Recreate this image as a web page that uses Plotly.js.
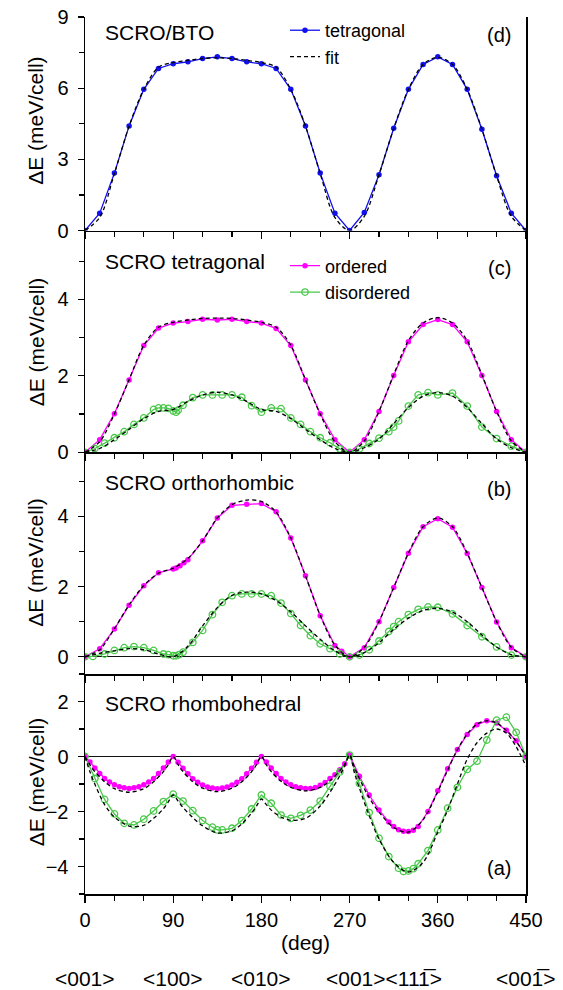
<!DOCTYPE html>
<html>
<head>
<meta charset="utf-8">
<script src="https://cdn.plot.ly/plotly-3.0.1.min.js"></script>
<style>html,body{margin:0;padding:0;background:#fff;}#chart{width:563px;height:990px;}</style>
</head>
<body>
<div id="chart"></div>
<script>
// ---------- shared angle grid ----------
const X15 = [0,15,30,45,60,75,90,105,120,135,150,165,180,195,210,225,240,255,270,285,300,315,330,345,360,375,390,405,420,435,450];

// ---------- panel (d) SCRO/BTO ----------
const D_TET = [0,0.73,2.42,4.41,5.95,6.83,7.03,7.11,7.25,7.32,7.25,7.11,7.03,6.83,5.95,4.41,2.42,0.73,0,0.76,2.35,4.31,5.95,7.0,7.32,7.0,5.95,4.27,2.31,0.73,0];
const D_FIT = [0,0.55,2.4,4.4,5.95,6.88,7.08,7.17,7.25,7.28,7.25,7.17,7.08,6.88,5.95,4.4,2.4,0.55,0,0.6,2.35,4.3,5.95,7.0,7.3,7.0,5.95,4.27,2.3,0.6,0];

// ---------- panel (c) SCRO tetragonal ----------
const C_ORD = [0,0.33,1.01,1.89,2.79,3.25,3.38,3.42,3.48,3.46,3.48,3.42,3.38,3.24,2.79,1.89,1.01,0.33,0,0.33,1.07,2.01,2.89,3.34,3.47,3.34,2.89,2.01,1.07,0.33,0];
const C_ORD_FIT = [0,0.28,1.0,1.9,2.8,3.27,3.4,3.46,3.5,3.51,3.5,3.46,3.4,3.27,2.8,1.9,1.0,0.28,0,0.3,1.07,2.03,2.92,3.38,3.52,3.38,2.92,2.03,1.07,0.3,0];
const C_DIS_X = [0,10,20,30,40,50,60,70,75,80,85,90,93,95,100,110,120,130,140,150,160,170,180,190,200,210,220,230,240,250,260,270,280,290,300,310,315,320,330,340,350,360,375,390,405,420,435,450];
const C_DIS = [0,0.1,0.24,0.38,0.54,0.73,0.90,1.12,1.16,1.16,1.15,1.08,1.05,1.10,1.23,1.43,1.50,1.50,1.50,1.50,1.44,1.22,1.05,1.16,1.14,0.90,0.73,0.54,0.38,0.25,0.09,0,0.09,0.23,0.37,0.54,0.66,0.82,1.21,1.50,1.56,1.50,1.55,1.21,0.66,0.36,0.16,0];
const C_DIS_FIT = [0,0.1,0.33,0.6,0.88,1.07,1.12,1.33,1.5,1.57,1.5,1.33,1.12,1.07,0.88,0.6,0.33,0.1,0,0.12,0.35,0.75,1.17,1.47,1.56,1.47,1.17,0.75,0.35,0.12,0];

// ---------- panel (b) SCRO orthorhombic ----------
const B_ORD_X = [0,15,30,45,60,75,90,93,97,101,105,120,135,150,165,180,195,210,225,240,255,262,270,285,300,315,330,345,360,375,390,405,420,435,450];
const B_ORD = [0,0.23,0.79,1.47,2.02,2.39,2.50,2.53,2.59,2.68,2.76,3.30,3.95,4.31,4.34,4.36,4.13,3.38,2.31,1.17,0.32,0.16,0,0.26,1.0,1.97,2.95,3.70,3.93,3.69,2.94,1.97,0.99,0.26,0];
const B_ORD_FIT = [0,0.2,0.8,1.48,2.03,2.38,2.52,2.8,3.3,3.95,4.33,4.46,4.42,4.12,3.38,2.3,1.18,0.33,0,0.27,1.0,1.97,2.95,3.7,3.95,3.7,2.95,1.97,1.0,0.27,0];
const B_DIS_X = [0,8,20,30,40,50,60,70,80,85,90,93,96,100,110,120,130,140,150,160,170,180,190,200,210,220,230,240,250,260,270,280,290,300,310,315,320,330,340,350,360,375,390,405,420,435,450];
const B_DIS = [0,0.01,0.08,0.18,0.26,0.29,0.26,0.18,0.08,0.06,0.03,0.03,0.06,0.13,0.41,0.75,1.2,1.55,1.74,1.79,1.79,1.79,1.74,1.53,1.23,0.89,0.6,0.37,0.23,0.08,0,0.05,0.2,0.45,0.72,0.86,1.0,1.2,1.35,1.42,1.41,1.22,0.89,0.57,0.28,0.05,0];
const B_DIS_FIT = [0,0.1,0.17,0.23,0.2,0.08,0.0,0.3,0.88,1.4,1.75,1.84,1.79,1.6,1.28,0.88,0.5,0.17,0,0.12,0.4,0.78,1.1,1.32,1.38,1.27,1.0,0.62,0.28,0.06,0];

// ---------- panel (a) SCRO rhombohedral ----------
const A_ORD_X = [0,5,10,15,20,25,30,35,40,45,50,55,60,65,70,75,80,85,90,95,100,105,110,115,120,125,130,135,140,145,150,155,160,165,170,175,180,185,190,195,200,205,210,215,220,225,230,235,240,245,250,255,260,265,270,280,290,300,310,315,320,325,330,335,340,350,360,370,380,390,400,410,420,430,440,450];
const A_ORD = [0,-0.2,-0.42,-0.62,-0.8,-0.93,-1.03,-1.1,-1.14,-1.16,-1.14,-1.1,-1.03,-0.93,-0.8,-0.62,-0.42,-0.2,
  0,-0.21,-0.43,-0.63,-0.81,-0.94,-1.04,-1.11,-1.15,-1.17,-1.15,-1.11,-1.04,-0.94,-0.81,-0.63,-0.43,-0.21,
  0,-0.2,-0.42,-0.62,-0.8,-0.93,-1.03,-1.1,-1.14,-1.16,-1.16,-1.13,-1.05,-0.95,-0.8,-0.66,-0.48,-0.26,
  0.05,-0.72,-1.4,-1.95,-2.38,-2.55,-2.66,-2.72,-2.73,-2.68,-2.55,-2.0,-1.25,-0.45,0.25,0.8,1.15,1.3,1.22,0.95,0.57,0];
const A_DIS_X = [0,10,20,30,40,50,60,70,80,90,100,110,120,130,135,140,150,160,170,180,190,200,210,220,230,240,250,260,270,280,290,300,310,320,325,330,335,340,350,360,370,380,390,400,410,420,430,440,450];
const A_DIS = [0,-0.8,-1.56,-2.09,-2.43,-2.49,-2.28,-1.98,-1.64,-1.37,-1.62,-1.97,-2.33,-2.57,-2.67,-2.67,-2.61,-2.33,-1.91,-1.4,-1.7,-2.13,-2.25,-2.14,-1.95,-1.62,-1.08,-0.56,0.05,-0.98,-2.04,-2.97,-3.64,-4.06,-4.18,-4.16,-4.08,-3.9,-3.42,-2.67,-1.88,-1.12,-0.47,-0.17,0.6,1.32,1.43,0.88,0];
const XA = [0,5,10,20,30,45,60,70,80,85,90,95,100,110,120,135,150,160,170,175,180,185,190,200,210,225,240,250,260,265,270,275,280,290,300,315,330,345,360,370,380,390,400,410,420,430,440,450];
const A_ORD_FIT = [0,-0.3,-0.55,-0.92,-1.17,-1.3,-1.17,-0.92,-0.55,-0.3,
  0,-0.3,-0.55,-0.92,-1.15,-1.28,-1.15,-0.92,-0.55,-0.3,
  0,-0.3,-0.55,-0.9,-1.12,-1.25,-1.12,-0.88,-0.52,-0.28,
  0.05,-0.4,-0.8,-1.5,-2.02,-2.58,-2.75,-2.3,-1.28,-0.5,
  0.25,0.82,1.18,1.3,1.22,0.95,0.55,0.0];
const A_DIS_FIT = [0,-0.55,-1.0,-1.75,-2.2,-2.53,-2.5,-2.25,-1.9,-1.65,
  -1.4,-1.62,-1.85,-2.22,-2.52,-2.78,-2.7,-2.45,-2.05,-1.8,
  -1.55,-1.75,-1.95,-2.2,-2.32,-2.25,-1.8,-1.3,-0.7,-0.35,
  0.05,-0.6,-1.15,-2.15,-3.0,-3.85,-4.2,-3.85,-2.75,-1.95,
  -1.0,-0.1,0.5,0.85,1.0,0.85,0.35,-0.35];

// ---------- text ----------
const X_TICKS = [0,90,180,270,360,450];
const PANEL_TITLES = ['SCRO rhombohedral','SCRO orthorhombic','SCRO tetragonal','SCRO/BTO'];
const PANEL_TAGS = ['(a)','(b)','(c)','(d)'];
const Y_TITLE = 'ΔE (meV/cell)';
const X_TITLE = '(deg)';
const DIR_LABELS = ['<001>','<100>','<010>','<001><11\u0031\u0305>','<00\u0031\u0305>'];
const DIR_POS = [0,90,180,305,450];

// ---------- styles ----------
const FONT = 'Liberation Sans, Arial, Helvetica, sans-serif';
const BLUE = '#1010f0', MAG = '#ff00ff', GRN = '#48c848';

function dataTrace(x, y, color, xa, ya, name, open, legend) {
  return {
    x: x, y: y, type: 'scatter', mode: 'lines+markers', name: name || '',
    xaxis: xa, yaxis: ya, showlegend: !!name, legend: legend || 'legend',
    line: {color: color, width: 1.3},
    marker: open ? {symbol: 'circle-open', size: 6.5, color: color, line: {width: 1.3, color: color}}
                 : {symbol: 'circle', size: 5.5, color: color}
  };
}
function fitTrace(x, y, xa, ya, name) {
  return {
    x: x, y: y, type: 'scatter', mode: 'lines', name: name || '',
    xaxis: xa, yaxis: ya, showlegend: !!name, legend: 'legend',
    line: {color: '#000', width: 1.3, dash: '4px,3px', shape: 'spline', smoothing: 0.9}
  };
}

const traces = [
  // (d)
  dataTrace(X15, D_TET, BLUE, 'x4', 'y4', 'tetragonal', false, 'legend'),
  fitTrace(X15, D_FIT, 'x4', 'y4', 'fit'),
  // (c)
  dataTrace(X15, C_ORD, MAG, 'x3', 'y3', 'ordered', false, 'legend2'),
  dataTrace(C_DIS_X, C_DIS, GRN, 'x3', 'y3', 'disordered', true, 'legend2'),
  fitTrace(X15, C_ORD_FIT, 'x3', 'y3'),
  fitTrace(X15, C_DIS_FIT, 'x3', 'y3'),
  // (b)
  dataTrace(B_ORD_X, B_ORD, MAG, 'x2', 'y2'),
  dataTrace(B_DIS_X, B_DIS, GRN, 'x2', 'y2', '', true),
  fitTrace(X15, B_ORD_FIT, 'x2', 'y2'),
  fitTrace(X15, B_DIS_FIT, 'x2', 'y2'),
  // (a)
  dataTrace(A_ORD_X, A_ORD, MAG, 'x', 'y'),
  dataTrace(A_DIS_X, A_DIS, GRN, 'x', 'y', '', true),
  fitTrace(XA, A_ORD_FIT, 'x', 'y'),
  fitTrace(XA, A_DIS_FIT, 'x', 'y')
];

// plot area geometry (px) used to place paper-referenced annotations
const W = 563, H = 990, ML = 85, MR = 37, MT = 15, MB = 96;
const PW = W - ML - MR, PH = H - MT - MB;
const px2x = p => (p - ML) / PW;
const py2y = p => (H - MB - p) / PH;

const DOM = [[0, py2y(673.5)], [py2y(673.5), py2y(451.3)], [py2y(451.3), py2y(229)], [py2y(229), 1]];
const YR = [[-5, 3], [-0.49, 5.82], [0, 5.8], [0, 9]];
const YD = [2, 2, 2, 3];

function xax(anchor, labels) {
  return {
    anchor: anchor, range: [0, 450], tickmode: 'array', tickvals: X_TICKS,
    showticklabels: labels, ticks: 'outside', ticklen: 7, tickwidth: 1.3, tickcolor: '#000',
    minor: {tickmode: 'linear', tick0: 0, dtick: 30, ticks: 'outside', ticklen: 5, tickwidth: 1.2, tickcolor: '#000'},
    showline: true, linecolor: '#000', linewidth: 1.5, mirror: false,
    showgrid: false, zeroline: false, ticklabelstandoff: 0,
    tickfont: {family: FONT, size: 20, color: '#000'}, fixedrange: true
  };
}
function yax(anchor, i) {
  return {
    anchor: anchor, domain: DOM[i], range: YR[i], tickmode: 'linear', tick0: 0, dtick: YD[i],
    ticks: 'outside', ticklen: 6, tickwidth: 1.3, tickcolor: '#000',
    minor: {tickmode: 'linear', tick0: 0, dtick: YD[i] / 2, ticks: 'outside', ticklen: 5, tickwidth: 1.2, tickcolor: '#000'},
    showline: true, linecolor: '#000', linewidth: 1.5, mirror: true,
    showgrid: false, zeroline: true, zerolinecolor: '#111', zerolinewidth: 1.2,
    ticklabelstandoff: 5, tickfont: {family: FONT, size: 20, color: '#000'}, fixedrange: true
  };
}
// overlay axes giving the inward half of the crossing major ticks
function xin(overlay, anchor) {
  return {overlaying: overlay, anchor: anchor, side: 'bottom', range: [0, 450], tickmode: 'array', tickvals: X_TICKS,
    ticks: 'inside', ticklen: 6, tickwidth: 1.3, tickcolor: '#000', showticklabels: false,
    showline: false, showgrid: false, zeroline: false, fixedrange: true};
}
function yin(overlay, anchor, i) {
  return {overlaying: overlay, anchor: anchor, side: 'left', range: YR[i], tickmode: 'linear', tick0: 0, dtick: YD[i],
    ticks: 'inside', ticklen: 6, tickwidth: 1.3, tickcolor: '#000', showticklabels: false,
    showline: false, showgrid: false, zeroline: false, fixedrange: true};
}

const annotations = [];
const titleY = [py2y(703.3), py2y(481.7), py2y(260), py2y(31)];
const tagY = [py2y(868.3), py2y(488.3), py2y(266.7), py2y(33)];
const yTitleCenter = [py2y(782), py2y(562), py2y(341), py2y(119)];
for (let i = 0; i < 4; i++) {
  annotations.push({text: PANEL_TITLES[i], xref: 'paper', yref: 'paper', x: px2x(103), y: titleY[i],
    xanchor: 'left', yanchor: 'middle', showarrow: false, font: {family: FONT, size: 21, color: '#000'}});
  annotations.push({text: PANEL_TAGS[i], xref: 'paper', yref: 'paper', x: px2x(499), y: tagY[i],
    xanchor: 'center', yanchor: 'middle', showarrow: false, font: {family: FONT, size: 20, color: '#000'}});
  annotations.push({text: Y_TITLE, xref: 'paper', yref: 'paper', x: px2x(36), y: yTitleCenter[i],
    xanchor: 'center', yanchor: 'middle', textangle: -90, showarrow: false, font: {family: FONT, size: 21, color: '#000'}});
}
annotations.push({text: X_TITLE, xref: 'x', yref: 'paper', x: 225, y: py2y(943), xanchor: 'center', yanchor: 'middle',
  showarrow: false, font: {family: FONT, size: 21, color: '#000'}});
for (let i = 0; i < DIR_LABELS.length; i++) {
  annotations.push({text: DIR_LABELS[i], xref: 'x', yref: 'paper', x: DIR_POS[i], y: py2y(979),
    xanchor: 'center', yanchor: 'middle', showarrow: false, font: {family: FONT, size: 21, color: '#000'}});
}

const legendCommon = {
  xref: 'paper', yref: 'paper', x: px2x(285), xanchor: 'left', yanchor: 'top',
  bgcolor: 'rgba(0,0,0,0)', borderwidth: 0, itemwidth: 30, tracegroupgap: 0,
  font: {family: FONT, size: 18, color: '#000'}
};

const layout = {
  width: W, height: H,
  margin: {l: ML, r: MR, t: MT, b: MB, pad: 0},
  paper_bgcolor: '#fff', plot_bgcolor: 'rgba(0,0,0,0)',
  font: {family: FONT, color: '#000'},
  xaxis: xax('y', true), xaxis2: xax('y2', false), xaxis3: xax('y3', false), xaxis4: xax('y4', false),
  yaxis: yax('x', 0), yaxis2: yax('x2', 1), yaxis3: yax('x3', 2), yaxis4: yax('x4', 3),
  xaxis5: xin('x', 'y'), xaxis6: xin('x2', 'y2'), xaxis7: xin('x3', 'y3'), xaxis8: xin('x4', 'y4'),
  yaxis5: yin('y', 'x', 0), yaxis6: yin('y2', 'x2', 1), yaxis7: yin('y3', 'x3', 2), yaxis8: yin('y4', 'x4', 3),
  legend: Object.assign({}, legendCommon, {y: py2y(10)}),
  legend2: Object.assign({}, legendCommon, {y: py2y(246)}),
  annotations: annotations,
  showlegend: true
};

Plotly.newPlot('chart', traces, layout, {staticPlot: true, displayModeBar: false});
</script>
</body>
</html>
